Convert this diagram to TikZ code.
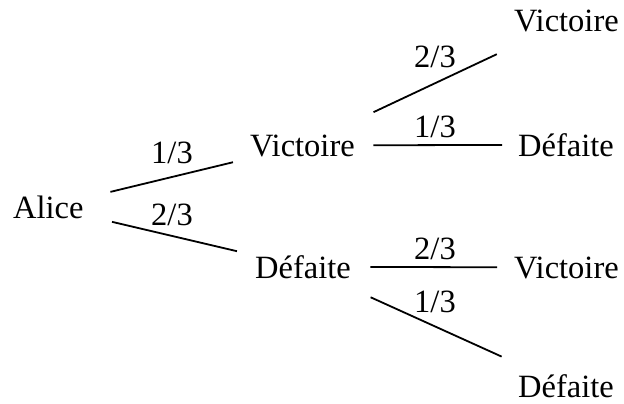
\documentclass[tikz,border=0pt]{standalone}
\usepackage{fontspec}
\setmainfont{Liberation Serif}
\begin{document}
\begin{tikzpicture}[x=1pt,y=-1pt,
  lbl/.style={inner sep=0pt,minimum height=80pt,font=\fontsize{32.5}{39}\selectfont},
  prob/.style={inner sep=0pt,anchor=base,font=\fontsize{32.5}{39}\selectfont},
  edge/.style={line width=1.8pt}]
\useasboundingbox (0,0) rectangle (624,404);
\node[lbl,anchor=base west] (alice) at (13,218) {Alice};
\node[lbl,anchor=base west] (v1) at (250,156) {Victoire};
\node[lbl,anchor=base west] (d1) at (255,278) {Défaite};
\node[lbl,anchor=base west] (v2) at (514,32) {Victoire};
\node[lbl,anchor=base west] (d2) at (518,156) {Défaite};
\node[lbl,anchor=base west] (v3) at (514,278) {Victoire};
\node[lbl,anchor=base west] (d3) at (518,397) {Défaite};
\draw[edge,shorten <=27.4pt,shorten >=17.5pt] (alice) -- (v1);
\draw[edge,shorten <=29pt,shorten >=18.5pt] (alice) -- (d1);
\draw[edge,shorten <=20.5pt,shorten >=19pt] (v1) -- (v2);
\draw[edge,shorten <=18.5pt,shorten >=16pt] (v1) -- (d2);
\draw[edge,shorten <=19.4pt,shorten >=17pt] (d1) -- (v3);
\draw[edge,shorten <=21.5pt,shorten >=18pt] (d1) -- (d3);
\node[prob] (p1) at (172,163) {1/3};
\node[prob] (p2) at (172,225) {2/3};
\node[prob] (p3) at (435,67) {2/3};
\node[prob] (p4) at (435,137) {1/3};
\node[prob] (p5) at (435,259) {2/3};
\node[prob] (p6) at (435,312) {1/3};
\end{tikzpicture}
\end{document}
